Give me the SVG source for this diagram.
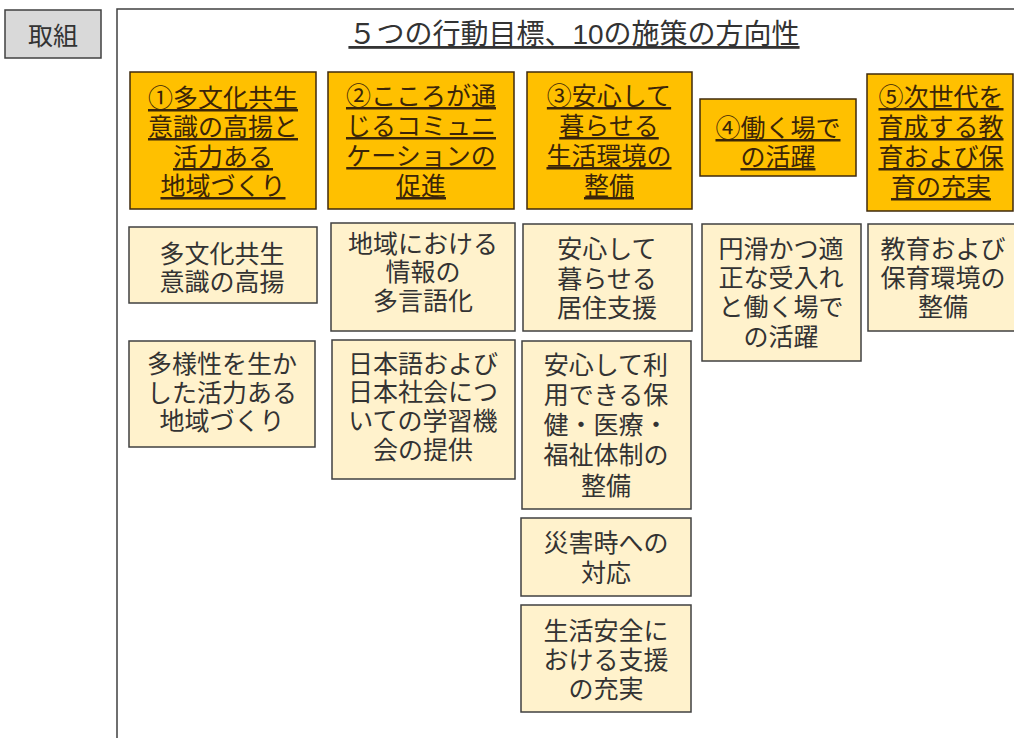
<svg xmlns="http://www.w3.org/2000/svg" width="1014" height="738" viewBox="0 0 1014 738">
<style>
text{font-family:"Liberation Sans","Noto Sans CJK JP","Noto Sans CJK SC",sans-serif;}
.frame{fill:#fff;stroke:#404040;stroke-width:1.5;}
.tag{fill:#d9d9d9;stroke:#404040;stroke-width:1.5;}
.goal{fill:#ffc000;stroke:#3f2a0c;stroke-width:1.5;}
.item{fill:#fff2cc;stroke:#404040;stroke-width:1.5;}
.gt{font-size:25px;fill:#3b2508;text-anchor:middle;text-decoration:underline;}
.it{font-size:25px;fill:#333;text-anchor:middle;}
.title{font-size:28px;fill:#333;text-anchor:middle;text-decoration:underline;}
.tagt{font-size:25px;fill:#333;text-anchor:middle;}
</style>
<rect width="1014" height="738" fill="#fff"/>
<g id="tag">
<rect class="tag" x="5" y="10" width="96" height="48"/>
<text class="tagt" x="53" y="45">取組</text>
</g>
<g id="frame">
<rect class="frame" x="117" y="9" width="1000" height="800"/>
<text class="title" x="574" y="44">５つの行動目標、10の施策の方向性</text>
</g>
<g id="goal1">
<rect class="goal" x="130" y="72" width="186" height="137"/>
<text class="gt" y="107"><tspan x="223">①多文化共生</tspan><tspan x="223" dy="29">意識の高揚と</tspan><tspan x="223" dy="30">活力ある</tspan><tspan x="223" dy="29">地域づくり</tspan></text>
</g>
<g id="goal2">
<rect class="goal" x="328" y="72" width="186" height="137"/>
<text class="gt" y="105"><tspan x="421">②こころが通</tspan><tspan x="421" dy="30">じるコミュニ</tspan><tspan x="421" dy="30">ケーションの</tspan><tspan x="421" dy="30">促進</tspan></text>
</g>
<g id="goal3">
<rect class="goal" x="527" y="72" width="165" height="137"/>
<text class="gt" y="105"><tspan x="609">③安心して</tspan><tspan x="609" dy="30">暮らせる</tspan><tspan x="609" dy="30">生活環境の</tspan><tspan x="609" dy="30">整備</tspan></text>
</g>
<g id="goal4">
<rect class="goal" x="700" y="99" width="156" height="77"/>
<text class="gt" y="137"><tspan x="778">④働く場で</tspan><tspan x="778" dy="29">の活躍</tspan></text>
</g>
<g id="goal5">
<rect class="goal" x="867" y="74" width="146" height="137"/>
<text class="gt" y="106"><tspan x="941">⑤次世代を</tspan><tspan x="941" dy="30">育成する教</tspan><tspan x="941" dy="30">育および保</tspan><tspan x="941" dy="30">育の充実</tspan></text>
</g>
<g id="item1a">
<rect class="item" x="129" y="227" width="188" height="76"/>
<text class="it" y="263"><tspan x="222">多文化共生</tspan><tspan x="222" dy="28">意識の高揚</tspan></text>
</g>
<g id="item1b">
<rect class="item" x="129" y="341" width="186" height="106"/>
<text class="it" y="373"><tspan x="222">多様性を生か</tspan><tspan x="222" dy="29">した活力ある</tspan><tspan x="222" dy="28">地域づくり</tspan></text>
</g>
<g id="item2a">
<rect class="item" x="331" y="223" width="184" height="108"/>
<text class="it" y="253"><tspan x="423">地域における</tspan><tspan x="423" dy="28">情報の</tspan><tspan x="423" dy="29">多言語化</tspan></text>
</g>
<g id="item2b">
<rect class="item" x="332" y="340" width="183" height="139"/>
<text class="it" y="373"><tspan x="423">日本語および</tspan><tspan x="423" dy="28">日本社会につ</tspan><tspan x="423" dy="29">いての学習機</tspan><tspan x="423" dy="29">会の提供</tspan></text>
</g>
<g id="item3a">
<rect class="item" x="523" y="224" width="169" height="107"/>
<text class="it" y="258"><tspan x="607">安心して</tspan><tspan x="607" dy="30">暮らせる</tspan><tspan x="607" dy="29">居住支援</tspan></text>
</g>
<g id="item3b">
<rect class="item" x="522" y="341" width="169" height="168"/>
<text class="it" y="374"><tspan x="606">安心して利</tspan><tspan x="606" dy="30">用できる保</tspan><tspan x="606" dy="30">健・医療・</tspan><tspan x="606" dy="30">福祉体制の</tspan><tspan x="606" dy="31">整備</tspan></text>
</g>
<g id="item3c">
<rect class="item" x="521" y="518" width="170" height="78"/>
<text class="it" y="552"><tspan x="606">災害時への</tspan><tspan x="606" dy="30">対応</tspan></text>
</g>
<g id="item3d">
<rect class="item" x="521" y="605" width="170" height="107"/>
<text class="it" y="640"><tspan x="606">生活安全に</tspan><tspan x="606" dy="29">おける支援</tspan><tspan x="606" dy="29">の充実</tspan></text>
</g>
<g id="item4a">
<rect class="item" x="702" y="224" width="159" height="137"/>
<text class="it" y="258"><tspan x="781">円滑かつ適</tspan><tspan x="781" dy="29">正な受入れ</tspan><tspan x="781" dy="29">と働く場で</tspan><tspan x="781" dy="30">の活躍</tspan></text>
</g>
<g id="item5a">
<rect class="item" x="868" y="224" width="150" height="107"/>
<text class="it" y="258"><tspan x="943">教育および</tspan><tspan x="943" dy="29">保育環境の</tspan><tspan x="943" dy="29">整備</tspan></text>
</g>
</svg>
